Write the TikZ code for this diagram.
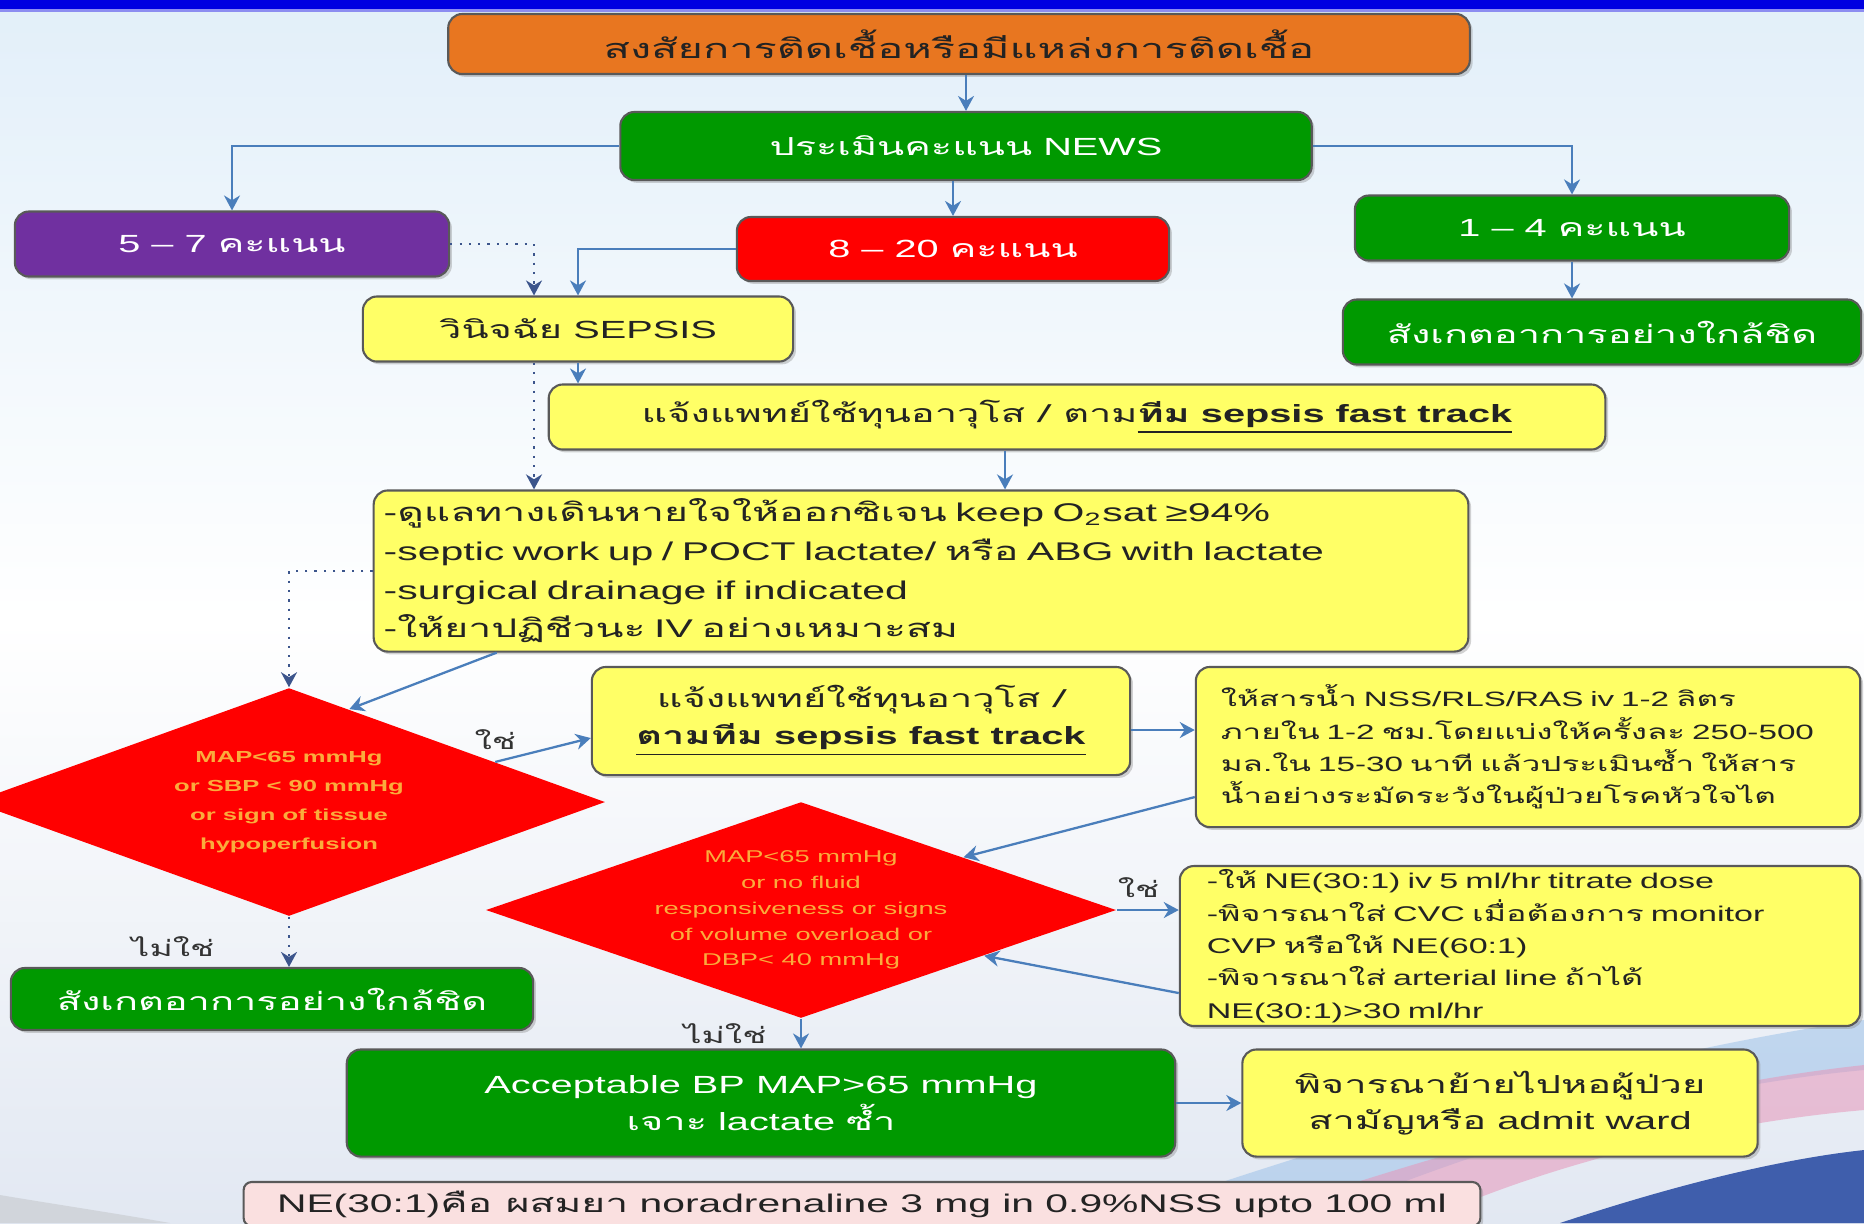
\documentclass[tikz,border=0pt]{standalone}
\usepackage{fontspec}
\setmainfont{Liberation Sans}[FakeStretch=1.6]
\newfontfamily\thaifont{Loma}[Script=Thai, FakeStretch=1.6]
\newcommand{\tht}[1]{{\thaifont #1}}
\usetikzlibrary{arrows.meta, positioning, shapes.geometric, shadows, calc}

\definecolor{boxOrange}{RGB}{232,118,32}
\definecolor{boxGreen}{RGB}{0,153,0}
\definecolor{boxPurple}{RGB}{112,48,160}
\definecolor{boxRed}{RGB}{255,0,0}
\definecolor{boxYellow}{RGB}{255,255,102}
\definecolor{boxPink}{RGB}{250,224,224}
\definecolor{linkBlue}{RGB}{74,126,187}
\definecolor{dotBlue}{RGB}{60,85,140}
\definecolor{diaText}{RGB}{250,172,60}
\definecolor{txtDark}{RGB}{35,35,35}
\definecolor{barBlue}{RGB}{0,0,225}
\definecolor{bgTop}{RGB}{226,239,249}
\definecolor{bgLow}{RGB}{226,232,242}
\definecolor{swPink}{RGB}{230,150,185}
\definecolor{swSky}{RGB}{150,190,232}
\definecolor{swBlue}{RGB}{35,70,160}

% text sizes (fonts are set wide, so the sizes are small)
\newcommand{\bigtxt}{\fontsize{7.06}{11.5}\selectfont}
\newcommand{\headtxt}{\fontsize{7.7}{11.5}\selectfont}
\newcommand{\pairtxt}{\fontsize{7.06}{10.4}\selectfont}
\newcommand{\listtxt}{\fontsize{7.28}{11}\selectfont}
\newcommand{\midtxt}{\fontsize{5.9}{9.2}\selectfont}
\newcommand{\drugtxt}{\fontsize{6.05}{9.2}\selectfont}
\newcommand{\diatxt}{\bfseries\fontsize{4.55}{8.2}\selectfont}
\newcommand{\smalltxt}{\fontsize{4.85}{7.35}\selectfont}
\newcommand{\notetxt}{\fontsize{7.25}{9}\selectfont}
\newcommand{\lbltxt}{\thaifont\fontsize{6.3}{7}\selectfont}
\lineskiplimit=-20pt

\begin{document}
\begin{tikzpicture}[
    x=0.01cm, y=-0.01cm,
    box/.style={rectangle, rounded corners=0.14cm, draw=black!65, line width=0.6pt,
        inner xsep=3pt, inner ysep=1pt, align=center, font=\bigtxt, text=txtDark,
        drop shadow={shadow xshift=0.8pt, shadow yshift=-0.8pt, opacity=0.35}},
    orangebox/.style={box, fill=boxOrange},
    greenbox/.style={box, fill=boxGreen, text=white},
    purplebox/.style={box, fill=boxPurple, text=white},
    redbox/.style={box, fill=boxRed, text=white},
    yellowbox/.style={box, fill=boxYellow},
    notebox/.style={box, fill=boxPink, rounded corners=0.08cm},
    decis/.style={diamond, fill=boxRed, inner sep=0pt, align=center, text=diaText},
    arrow/.style={-{Stealth[length=1.5mm, width=1.6mm]}, line width=0.65pt, linkBlue},
    dotarrow/.style={-{Stealth[length=1.5mm, width=1.6mm]}, line width=0.65pt, dotted, dotBlue},
    lbl/.style={font=\lbltxt, text=black!80, inner sep=1pt}
]
\useasboundingbox (0,0) rectangle (1864,1223);

% --- background wash, top bar and corner swoosh ---
\shade[top color=bgTop, bottom color=white] (0,0) rectangle (1864,620);
\shade[top color=white, bottom color=bgLow] (0,620) rectangle (1864,1223);
\fill[barBlue] (0,0) rectangle (1864,9);
\fill[barBlue!45] (0,9) rectangle (1864,12);
\fill[swSky, opacity=0.5] (1100,1223) .. controls (1400,1120) and (1650,1050) .. (1864,1020)
    -- (1864,1070) .. controls (1650,1090) and (1450,1160) .. (1300,1223) -- cycle;
\fill[swPink, opacity=0.55] (1230,1223) .. controls (1480,1140) and (1680,1085) .. (1864,1065)
    -- (1864,1110) .. controls (1690,1125) and (1520,1175) .. (1420,1223) -- cycle;
\fill[swBlue, opacity=0.85] (1560,1223) .. controls (1690,1180) and (1790,1158) .. (1864,1150)
    -- (1864,1223) -- cycle;
\fill[black!30, opacity=0.35] (0,1195) .. controls (60,1205) and (120,1214) .. (170,1223)
    -- (0,1223) -- cycle;

% --- top: suspicion and NEWS scoring ---
\node[orangebox, minimum width=10.21cm, minimum height=0.60cm, font=\headtxt] (susp) at (959,44)
    {\tht{สงสัยการติดเชื้อหรือมีแหล่งการติดเชื้อ}};
\node[greenbox, minimum width=6.91cm, minimum height=0.68cm] (news) at (966,146)
    {\tht{ประเมินคะแนน} NEWS};

\node[purplebox, minimum width=4.34cm, minimum height=0.65cm] (mid57) at (232,244)
    {5 -- 7 \tht{คะแนน}};
\node[redbox, minimum width=4.32cm, minimum height=0.64cm] (high) at (953,249)
    {8 -- 20 \tht{คะแนน}};
\node[greenbox, minimum width=4.34cm, minimum height=0.65cm] (low) at (1572,228)
    {1 -- 4 \tht{คะแนน}};
\node[greenbox, minimum width=5.18cm, minimum height=0.65cm] (watchR) at (1602,332)
    {\tht{สังเกตอาการอย่างใกล้ชิด}};

% --- sepsis pathway ---
\node[yellowbox, minimum width=4.30cm, minimum height=0.65cm] (sepsis) at (578,329)
    {\tht{วินิจฉัย} SEPSIS};
\node[yellowbox, minimum width=10.56cm, minimum height=0.65cm] (notify1) at (1077,417)
    {\tht{แจ้งแพทย์ใช้ทุนอาวุโส / ตาม}\underline{\textbf{\tht{ทีม} sepsis fast track}}};
\node[yellowbox, minimum width=10.94cm, minimum height=1.61cm, text width=10.74cm,
      inner xsep=0.1cm, align=left, font=\listtxt] (care) at (921,571)
    {-\tht{ดูแลทางเดินหายใจให้ออกซิเจน} keep O\textsubscript{2}sat ≥94\%\\
     -septic work up / POCT lactate/ \tht{หรือ} ABG with lactate\\
     -surgical drainage if indicated\\
     -\tht{ให้ยาปฏิชีวนะ} IV \tht{อย่างเหมาะสม}};

% --- first pressure check ---
\node[decis, shape aspect=2.77, minimum width=6.32cm, minimum height=2.28cm, font=\diatxt] (shock) at (289,802)
    {MAP<65 mmHg\\or SBP < 90 mmHg\\or sign of tissue\\hypoperfusion};
\node[yellowbox, minimum width=5.38cm, minimum height=1.08cm, font=\pairtxt] (notify2) at (861,721)
    {\tht{แจ้งแพทย์ใช้ทุนอาวุโส /}\\\underline{\textbf{\tht{ตามทีม} sepsis fast track}}};
\node[yellowbox, minimum width=6.64cm, minimum height=1.60cm, text width=6.14cm,
      inner xsep=0.25cm, align=left, font=\midtxt] (fluids) at (1528,747)
    {\tht{ให้สารน้ำ} NSS/RLS/RAS iv 1-2 \tht{ลิตร}\\
     \tht{ภายใน} 1-2 \tht{ชม.โดยแบ่งให้ครั้งละ} 250-500\\
     \tht{มล.ใน} 15-30 \tht{นาที แล้วประเมินซ้ำ ให้สาร}\\
     \tht{น้ำอย่างระมัดระวังในผู้ป่วยโรคหัวใจไต}};

% --- second check after fluids ---
\node[decis, shape aspect=2.92, inner sep=-2pt, minimum width=6.30cm, minimum height=2.16cm, font=\smalltxt] (resp) at (801,910)
    {MAP<65 mmHg\\or no fluid\\responsiveness or signs\\of volume overload or\\DBP< 40 mmHg};
\node[yellowbox, minimum width=6.80cm, minimum height=1.59cm, text width=6.26cm,
      inner xsep=0.27cm, align=left, font=\drugtxt] (ne) at (1520,946)
    {-\tht{ให้} NE(30:1) iv 5 ml/hr titrate dose\\
     -\tht{พิจารณาใส่} CVC \tht{เมื่อต้องการ} monitor\\
     CVP \tht{หรือให้} NE(60:1)\\
     -\tht{พิจารณาใส่} arterial line \tht{ถ้าได้}\\
     NE(30:1)>30 ml/hr};

\node[greenbox, minimum width=5.22cm, minimum height=0.62cm] (watchL) at (272,999)
    {\tht{สังเกตอาการอย่างใกล้ชิด}};
\node[greenbox, minimum width=8.28cm, minimum height=1.07cm, font=\pairtxt] (accept) at (761,1103)
    {Acceptable BP MAP>65 mmHg\\\tht{เจาะ} lactate \tht{ซ้ำ}};
\node[yellowbox, minimum width=5.15cm, minimum height=1.07cm, font=\pairtxt] (admit) at (1500,1103)
    {\tht{พิจารณาย้ายไปหอผู้ป่วย}\\\tht{สามัญหรือ} admit ward};
\node[notebox, minimum width=12.36cm, minimum height=0.44cm, font=\notetxt] (note) at (862,1204)
    {NE(30:1)\tht{คือ ผสมยา} noradrenaline 3 mg in 0.9\%NSS upto 100 ml};

% === connectors ===
\coordinate (dotx) at (534,0);
\coordinate (dropx) at (1005,0);
\coordinate (n2out) at ([yshift=-0.09cm]notify2.east);

\draw[arrow] (susp.south -| news.north) -- (news.north);
\draw[arrow] (news.west) -| (mid57.north);
\draw[arrow] (news.east) -| (low.north);
\draw[arrow] (news.south -| high.north) -- (high.north);
\draw[arrow] (low.south) -- (low.south |- watchR.north);

% score groups into the sepsis box
\draw[dotarrow] (mid57.east) -| (dotx |- sepsis.north);
\draw[arrow] (high.west) -| (sepsis.north);
\draw[arrow] (sepsis.south) -- (sepsis.south |- notify1.north);
\draw[dotarrow] (dotx |- sepsis.south) -- (dotx |- care.north);
\draw[arrow] (dropx |- notify1.south) -- (dropx |- care.north);

% care bundle into the first check
\draw[dotarrow] (care.west) -| (shock.north);
\draw[arrow] ([xshift=1.24cm]care.south west) -- (shock.57);
\draw[arrow] (shock.11) -- node[lbl, above, pos=0, yshift=0.08cm] (yes1) {ใช่} ([yshift=-0.17cm]notify2.west);
\draw[arrow] (n2out) -- (n2out -| fluids.west);
\draw[arrow] ([yshift=-0.5cm]fluids.west) -- (resp.18);
\draw[dotarrow] (shock.south) -- node[lbl, pos=0.6, left=0.7cm] (no1) {ไม่ใช่} (shock.south |- watchL.north);

% second check: vasopressor loop or stable
\draw[arrow] (resp.east) -- node[lbl, above, pos=0.35, yshift=0.08cm] (yes2) {ใช่} (resp.east -| ne.west);
\draw[arrow] ([yshift=-0.47cm]ne.west) -- (resp.-14);
\draw[arrow] (resp.south) -- node[lbl, left=0.3cm] (no2) {ไม่ใช่} (resp.south |- accept.north);
\draw[arrow] (accept.east) -- (admit.west);

\end{tikzpicture}
\end{document}
